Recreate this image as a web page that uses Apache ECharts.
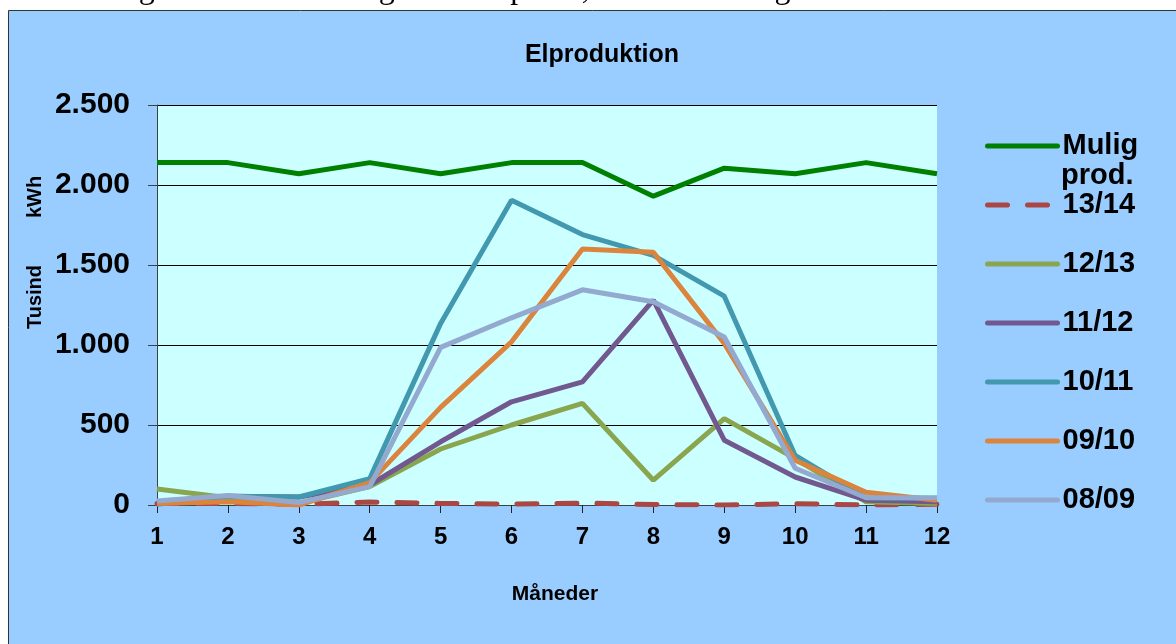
<!DOCTYPE html>
<html>
<head>
<meta charset="utf-8">
<script src="https://cdn.jsdelivr.net/npm/echarts@6/dist/echarts.min.js"></script>
<style>
  html, body { margin: 0; padding: 0; background: #fff; }
  #box { width: 1176px; height: 644px; }
</style>
</head>
<body>
<div id="box"></div>
<script>
// måneder 1..12
var months = ['1', '2', '3', '4', '5', '6', '7', '8', '9', '10', '11', '12'];
var yTicks = [0, 500, 1000, 1500, 2000, 2500];

// tusind kWh
var muligProd = [2140, 2140, 2070, 2140, 2070, 2140, 2140, 1930, 2105, 2070, 2140, 2070];
var s1314 = [10, 10, 5, 18, 10, 5, 12, 3, 0, 8, 0, 5];
var s1213 = [100, 45, 10, 115, 350, 500, 635, 155, 540, 290, 20, 10];
var s1112 = [20, 55, 50, 125, 395, 645, 770, 1280, 405, 175, 30, 20];
var s1011 = [5, 55, 50, 165, 1135, 1905, 1690, 1560, 1305, 310, 45, 40];
var s0910 = [10, 20, 0, 140, 610, 1020, 1600, 1580, 1010, 280, 80, 30];
var s0809 = [25, 60, 15, 115, 985, 1170, 1345, 1270, 1050, 230, 45, 45];

var seriesNames = ['Mulig prod.', '13/14', '12/13', '11/12', '10/11', '09/10', '08/09'];
var seriesData = [muligProd, s1314, s1213, s1112, s1011, s0910, s0809];
var colors = ['#008000', '#AA4643', '#89A54E', '#71588F', '#4198AF', '#DB843D', '#93A9CF'];

var FONT = 'Liberation Sans, Arial, sans-serif';

var chart = echarts.init(document.getElementById('box'));

var series = seriesNames.map(function (name, i) {
    return {
        name: name,
        type: 'line',
        data: seriesData[i],
        symbol: 'none',
        color: colors[i],
        lineStyle: {
            width: 5,
            color: colors[i],
            type: i === 1 ? [20, 20] : 'solid',
            cap: i === 1 ? 'round' : 'butt'
        },
        emphasis: { disabled: true },
        animation: false
    };
});

var option = {
    backgroundColor: '#ffffff',
    animation: false,
    title: {
        text: 'Elproduktion',
        left: 597,
        textAlign: 'center',
        top: 38,
        textStyle: { fontFamily: FONT, fontSize: 25, fontWeight: 'bold', color: '#000' }
    },
    graphic: [
        {
            type: 'rect', z: -10, silent: true,
            shape: { x: 8.5, y: 10.5, width: 1200, height: 700 },
            style: { fill: '#99CCFF', stroke: '#333', lineWidth: 1 }
        },
        {
            type: 'text', silent: true, x: 2, y: -10,
            style: {
                text: 'Hovedårsagen hertil er de meget lave elpriser, der har været gældende hele året.',
                font: '32px Liberation Serif, Times New Roman, serif', fill: '#000',
                align: 'left', verticalAlign: 'middle'
            }
        },
        {
            type: 'text', silent: true, x: 35, y: 297, rotation: Math.PI / 2,
            style: { text: 'Tusind', font: 'bold 20px ' + FONT, fill: '#000', align: 'center', verticalAlign: 'middle' }
        },
        {
            type: 'text', silent: true, x: 35, y: 197, rotation: Math.PI / 2,
            style: { text: 'kWh', font: 'bold 20px ' + FONT, fill: '#000', align: 'center', verticalAlign: 'middle' }
        },
        {
            type: 'text', silent: true, x: 555, y: 594,
            style: { text: 'Måneder', font: 'bold 21px ' + FONT, fill: '#000', align: 'center', verticalAlign: 'middle' }
        },
        {
            type: 'text', silent: true, x: 1061, y: 176,
            style: { text: 'prod.', font: 'bold 29px ' + FONT, fill: '#000', align: 'left', verticalAlign: 'middle' }
        }
    ],
    legend: {
        orient: 'vertical',
        left: 985,
        top: 131,
        itemWidth: 70,
        itemHeight: 14,
        itemGap: 29,
        padding: 0,
        data: seriesNames,
        formatter: function (name) {
            return name === 'Mulig prod.' ? 'Mulig' : name;
        },
        itemStyle: { opacity: 0, borderWidth: 0 },
        lineStyle: { width: 5, cap: 'round' },
        textStyle: { fontFamily: FONT, fontSize: 29, fontWeight: 'bold', color: '#000', lineHeight: 30 }
    },
    grid: {
        left: 157,
        top: 105,
        width: 780,
        height: 400,
        show: true,
        backgroundColor: '#CCFFFF',
        borderWidth: 0
    },
    xAxis: {
        type: 'category',
        data: months,
        boundaryGap: false,
        axisLine: { lineStyle: { color: '#404040', width: 1 } },
        axisTick: { show: true, length: 8, alignWithLabel: true, lineStyle: { color: '#222' } },
        axisLabel: { fontFamily: FONT, fontSize: 24, fontWeight: 'bold', color: '#000', margin: 20 },
        splitLine: { show: false }
    },
    yAxis: {
        type: 'value',
        min: yTicks[0],
        max: yTicks[yTicks.length - 1],
        interval: 500,
        axisLine: { show: true, lineStyle: { color: '#404040', width: 1 } },
        axisTick: { show: true, length: 9, lineStyle: { color: '#404040' } },
        axisLabel: {
            fontFamily: FONT, fontSize: 30, fontWeight: 'bold', color: '#000', margin: 27,
            formatter: function (v) {
                return String(v).replace(/\B(?=(\d{3})+(?!\d))/g, '.');
            }
        },
        splitLine: { show: true, lineStyle: { color: '#000', width: 1 } }
    },
    series: series
};

chart.setOption(option);
</script>
</body>
</html>
